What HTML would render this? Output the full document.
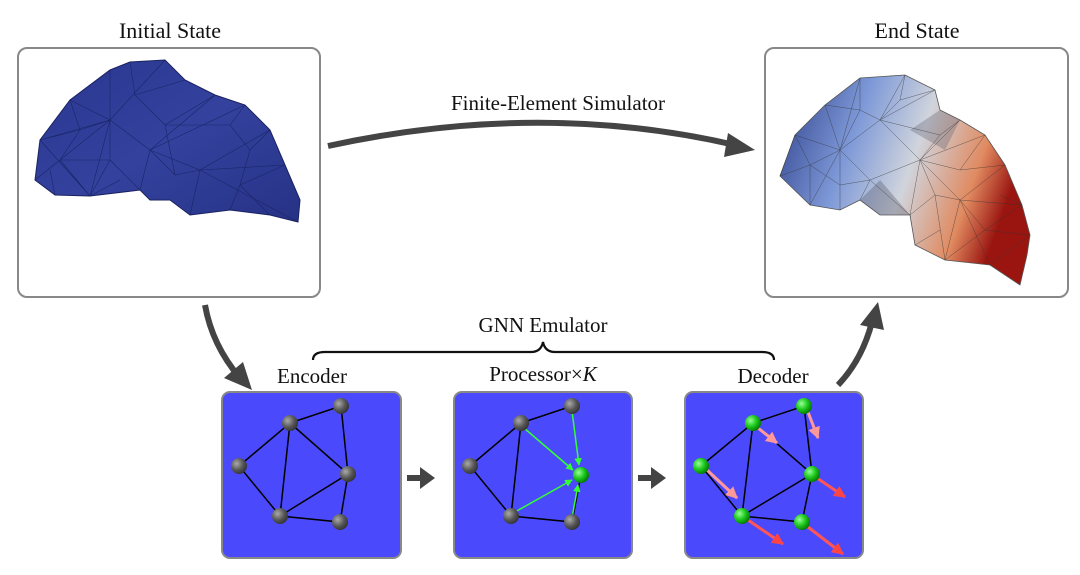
<!DOCTYPE html>
<html><head><style>
body{margin:0;background:#fff;}
svg text{font-family:"Liberation Serif",serif;fill:#111;}
</style></head><body>
<svg width="1080" height="570" viewBox="0 0 1080 570" xmlns="http://www.w3.org/2000/svg">
<defs>
<radialGradient id="gg" cx="0.35" cy="0.35" r="0.7"><stop offset="0" stop-color="#aaa"/><stop offset="0.6" stop-color="#555"/><stop offset="1" stop-color="#333"/></radialGradient>
<radialGradient id="gr" cx="0.35" cy="0.35" r="0.7"><stop offset="0" stop-color="#9f9"/><stop offset="0.5" stop-color="#2c2"/><stop offset="1" stop-color="#070"/></radialGradient>
<linearGradient id="es" x1="0" y1="0" x2="1" y2="0.3"><stop offset="0" stop-color="#2c3d8a"/><stop offset="0.35" stop-color="#7f9ad8"/><stop offset="0.6" stop-color="#d0d4dc"/><stop offset="0.85" stop-color="#e08a60"/><stop offset="1" stop-color="#9a1510"/></linearGradient>
<linearGradient id="is" x1="0" y1="0" x2="1" y2="1"><stop offset="0" stop-color="#2a3790"/><stop offset="0.5" stop-color="#34429e"/><stop offset="1" stop-color="#263285"/></linearGradient>
<marker id="ga" viewBox="0 0 10 10" refX="9" refY="5" markerWidth="5" markerHeight="5" orient="auto"><path d="M0,0L10,5L0,10z" fill="#3f3"/></marker>
<marker id="pa" viewBox="0 0 10 10" refX="9" refY="5" markerWidth="4" markerHeight="4" orient="auto"><path d="M0,0L10,5L0,10z" fill="#f99"/></marker>
<marker id="ra" viewBox="0 0 10 10" refX="9" refY="5" markerWidth="4" markerHeight="4" orient="auto"><path d="M0,0L10,5L0,10z" fill="#f44"/></marker>
</defs>
<text x="170" y="38" font-size="22" text-anchor="middle">Initial State</text>
<text x="917" y="38" font-size="22" text-anchor="middle">End State</text>
<rect x="18" y="48" width="302" height="249" rx="9" fill="#fff" stroke="#888" stroke-width="2"/>
<rect x="765" y="48" width="303" height="249" rx="9" fill="#fff" stroke="#888" stroke-width="2"/>
<polygon points="35,180 40,140 70,100 110,70 130,62 165,60 185,80 215,95 245,105 270,130 285,165 300,200 298,222 270,215 230,210 190,215 170,200 150,200 140,190 90,196 55,195" fill="url(#is)" stroke="#1a2260"/>
<g stroke="#1c2568" stroke-width="0.6" fill="none">
<path d="M40,140 L110,120 L165,60 M70,100 L110,120 L150,150 L215,95 M110,70 L110,120 M150,150 L245,105 M150,150 L200,170 L270,130 M200,170 L285,165 M200,170 L190,215 M150,150 L140,190 M110,120 L90,196 M40,140 L90,196 M200,170 L298,222 M110,120 L60,160 L35,180 M60,160 L90,196"/>
<path d="M130,62 L135,95 L185,80 M135,95 L165,125 L215,95 M165,125 L230,125 L245,105 M230,125 L250,150 L270,130 M250,150 L240,185 L285,165 M240,185 L270,215 M240,185 L230,210 M165,125 L175,175 L150,150 M175,175 L200,170 M80,130 L70,100 M80,130 L110,120 M80,130 L40,140 M80,130 L60,160 M60,160 L110,160 L110,120 M110,160 L140,190 M110,160 L90,196 M50,170 L55,195 M90,196 L120,180"/>
</g>
<polygon points="780,176 795,135 825,105 860,78 905,75 935,90 940,110 960,120 985,135 1005,165 1022,205 1030,235 1027,255 1020,285 990,265 945,260 915,245 910,215 880,215 860,200 840,210 810,205" fill="url(#es)" stroke="#555" stroke-width="0.8"/>
<polygon points="880,180 910,215 880,215 860,200" fill="#556" opacity="0.35"/>
<polygon points="910,130 940,110 960,120 945,150" fill="#556" opacity="0.3"/>
<g stroke="#333" stroke-width="0.5" fill="none" opacity="0.7">
<path d="M795,135 L840,150 L860,78 M825,105 L840,150 L880,120 L905,75 M880,120 L935,90 M880,120 L920,160 L960,120 M840,150 L870,180 L920,160 L985,135 M870,180 L860,200 M920,160 L960,200 L1005,165 M960,200 L945,260 M920,160 L910,215 M960,200 L1022,205 M960,200 L990,265 L1030,235 M840,150 L810,205 M795,135 L780,176 M870,180 L910,215"/>
<path d="M810,165 L795,135 M810,165 L840,150 M810,165 L780,176 M810,165 L810,205 M810,165 L840,185 L840,150 M840,185 L870,180 M840,185 L840,210 M860,110 L825,105 M860,110 L880,120 M860,110 L860,78 M860,110 L840,150 M900,100 L880,120 M900,100 L905,75 M900,100 L935,90 M940,135 L920,160 M940,135 L960,120 M940,135 L880,120 M960,170 L985,135 M960,170 L920,160 M960,170 L1005,165 M935,195 L910,215 M935,195 L920,160 M935,195 L960,200 M935,195 L945,260 M985,230 L960,200 M985,230 L1022,205 M985,230 L945,260 M985,230 L1030,235 M1000,195 L1022,205 M940,230 L915,245"/>
</g>
<text x="558" y="110" font-size="21" text-anchor="middle">Finite-Element Simulator</text>
<path d="M328,146 Q540,100 735,145" fill="none" stroke="#444" stroke-width="6"/>
<polygon points="755,150 728,133 724,157" fill="#444"/>
<path d="M205,305 Q212,345 240,378" fill="none" stroke="#444" stroke-width="6"/>
<polygon points="252,390 224,378 243,362" fill="#444"/>
<path d="M838,385 Q862,360 872,322" fill="none" stroke="#444" stroke-width="6"/>
<polygon points="878,302 860,325 884,330" fill="#444"/>
<text x="543" y="332" font-size="21" text-anchor="middle">GNN Emulator</text>
<path d="M313,360 Q313,352 325,352 L531,352 Q541,352 543,342 Q545,352 555,352 L762,352 Q774,352 774,360" fill="none" stroke="#111" stroke-width="2.2"/>
<text x="312" y="383" font-size="21" text-anchor="middle">Encoder</text>
<text x="543" y="381" font-size="21" text-anchor="middle">Processor×<tspan font-style="italic">K</tspan></text>
<text x="773" y="383" font-size="21" text-anchor="middle">Decoder</text>
<rect x="222" y="392" width="179" height="166" rx="8" fill="#4a4afc" stroke="#888" stroke-width="2"/>
<rect x="454" y="392" width="178" height="166" rx="8" fill="#4a4afc" stroke="#888" stroke-width="2"/>
<rect x="685" y="392" width="178" height="166" rx="8" fill="#4a4afc" stroke="#888" stroke-width="2"/>
<polygon points="407,475 420,475 420,467 435,478 420,489 420,481 407,481" fill="#444"/>
<polygon points="638,475 651,475 651,467 666,478 651,489 651,481 638,481" fill="#444"/>
<g stroke="#000" stroke-width="1.5" fill="none">
<path d="M290,423 L341,406 L348,474 L340,522 L280,516 L239,466 L290,423 L280,516 L348,474 L290,423"/>
<path d="M521,423 L572,406 M581,475 L572,522 L511,516 L470,466 L521,423 L511,516"/>
<path d="M753,423 L804,406 L812,474 L802,522 L742,516 L701,466 L753,423 L742,516 L812,474 L753,423"/>
</g>
<g stroke="#3f3" stroke-width="1.5" marker-end="url(#ga)">
<line x1="524" y1="428" x2="573" y2="470"/><line x1="572" y1="411" x2="579" y2="465"/>
<line x1="515" y1="512" x2="572" y2="480"/><line x1="572" y1="518" x2="578" y2="485"/>
</g>
<g stroke="#f99" stroke-width="3" marker-end="url(#pa)">
<line x1="808" y1="412" x2="818" y2="438"/><line x1="758" y1="428" x2="777" y2="443"/>
<line x1="707" y1="470" x2="737" y2="498"/>
</g>
<g stroke="#f55" stroke-width="3" marker-end="url(#ra)">
<line x1="817" y1="478" x2="845" y2="497"/><line x1="748" y1="520" x2="783" y2="544"/>
<line x1="808" y1="527" x2="843" y2="554"/>
</g>
<g fill="url(#gg)">
<circle cx="290" cy="423" r="8"/><circle cx="341" cy="406" r="8"/><circle cx="239" cy="466" r="8"/><circle cx="348" cy="474" r="8"/><circle cx="280" cy="516" r="8"/><circle cx="340" cy="522" r="8"/>
<circle cx="521" cy="423" r="8"/><circle cx="572" cy="406" r="8"/><circle cx="470" cy="466" r="8"/><circle cx="511" cy="516" r="8"/><circle cx="572" cy="522" r="8"/>
</g>
<g fill="url(#gr)">
<circle cx="581" cy="475" r="8"/>
<circle cx="753" cy="423" r="8"/><circle cx="804" cy="406" r="8"/><circle cx="701" cy="466" r="8"/><circle cx="812" cy="474" r="8"/><circle cx="742" cy="516" r="8"/><circle cx="802" cy="522" r="8"/>
</g>
</svg>
</body></html>
